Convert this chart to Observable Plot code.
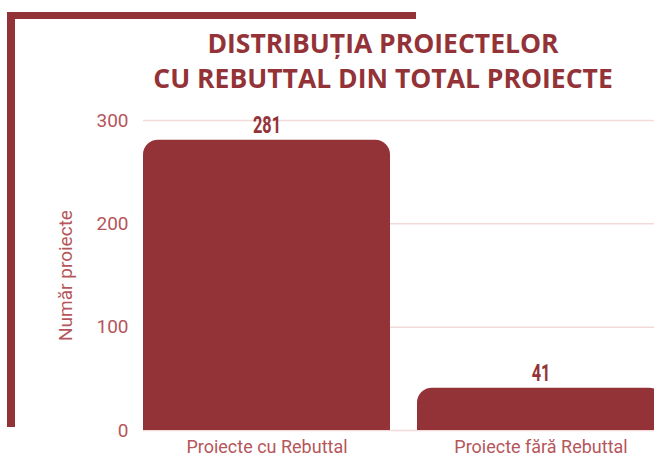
<!DOCTYPE html>
<html><head><meta charset="utf-8">
<script src="https://cdn.jsdelivr.net/npm/d3@7"></script>
<script src="https://cdn.jsdelivr.net/npm/@observablehq/plot@0.6"></script>
<style>
body{margin:0;background:#fff;overflow:hidden}
#wrap{position:relative;width:654px;height:456px;overflow:hidden;background:#fff}
#title{height:100px;box-sizing:border-box;padding-top:26px;padding-left:112px;text-align:center;font-family:"Open Sans";font-weight:700;font-size:26.5px;line-height:35px;color:#933337;white-space:nowrap}
.fr{position:absolute;background:#933337}
</style></head><body>
<div id="wrap">
<div id="title">DISTRIBUȚIA PROIECTELOR<br>CU REBUTTAL DIN TOTAL PROIECTE</div>
<div id="chart"></div>
<div class="fr" style="left:8px;top:12px;width:408px;height:7px"></div>
<div class="fr" style="left:7px;top:12px;width:8px;height:415px"></div>
</div>
<script>
const categories = ["Proiecte cu Rebuttal", "Proiecte fără Rebuttal"];
const values = [281, 41];
const yTicks = [0, 100, 200, 300];
const yLabel = "Număr proiecte";

const data = categories.map((c, i) => ({cat: c, value: values[i]}));
const dark = "#933337", light = "#b5565b", grid = "#f3dada";
const radius = 15; // px
const chart = Plot.plot({
  width: 654, height: 356,
  marginLeft: 143, marginRight: -10, marginTop: 20, marginBottom: 26,
  style: {fontFamily: "Roboto", overflow: "visible", background: "transparent"},
  x: {domain: categories, paddingInner: 0.1, paddingOuter: 0, label: null},
  y: {domain: [0, 300], label: null},
  marks: [
    Plot.gridY(yTicks, {stroke: grid, strokeOpacity: 1, strokeWidth: 1.5}),
    Plot.barY(data, {x: "cat", y: "value", fill: dark, rx: radius}),
    Plot.barY(data, {x: "cat", y: d => d.value - 15, fill: dark}),
    Plot.text(data, {x: "cat", y: "value", text: d => String(d.value), dy: -7, lineAnchor: "bottom", fill: dark, fontSize: 24, fontWeight: "bold", fontFamily: "Roboto", className: "vlab"}),
    Plot.axisY(yTicks, {tickSize: 0, tickPadding: 15, fontSize: 19, fill: light, label: null}),
    Plot.text([yLabel], {frameAnchor: "left", text: d => d, rotate: -90, dx: -78, fontSize: 19, fill: light, textAnchor: "middle", lineAnchor: "middle"}),
    Plot.axisX({tickSize: 0, tickPadding: 10, fontSize: 18, fill: light, label: null})
  ]
});
// condense the value labels horizontally
d3.select(chart).selectAll(".vlab text").each(function() {
  const el = this;
  let t = el.getAttribute("transform") || "";
  if (el.hasAttribute("x") || el.hasAttribute("y")) {
    const x = +el.getAttribute("x") || 0, y = +el.getAttribute("y") || 0;
    el.removeAttribute("x"); el.removeAttribute("y");
    t = t + ` translate(${x},${y})`;
  }
  el.setAttribute("transform", t + " scale(0.68,1)");
});
document.getElementById("chart").appendChild(chart);
</script>
</body></html>
